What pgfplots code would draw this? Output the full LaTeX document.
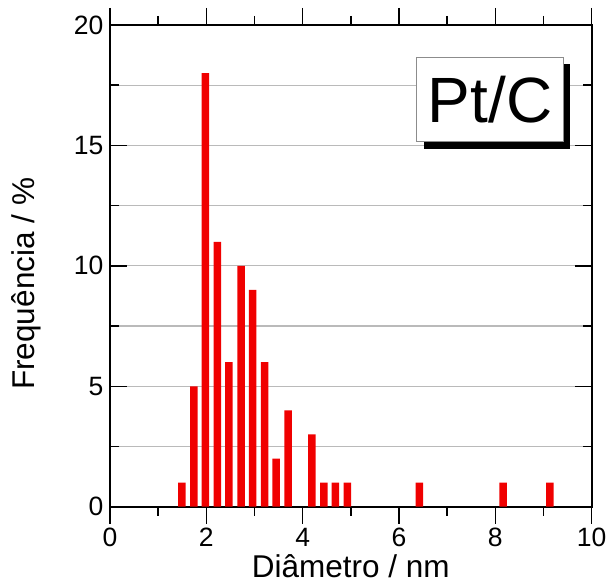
\documentclass[border=0pt]{standalone}
\usepackage{fontspec}
\setmainfont{Liberation Sans}
\usepackage{pgfplots}
\pgfplotsset{compat=1.18}
\usetikzlibrary{shadows}
\definecolor{barred}{RGB}{240,0,0}
\begin{document}
\begin{tikzpicture}
\begin{axis}[
  scale only axis, width=481.7pt, height=481.7pt,
  xmin=0, xmax=10, ymin=0, ymax=20,
  xtick={0,2,...,10}, minor xtick={1,3,...,9},
  ytick={0,5,...,20}, minor ytick={2.5,7.5,12.5,17.5},
  tick align=inside,
  major tick length=17pt, minor tick length=9pt,
  ymajorgrids, yminorgrids,
  grid style={line width=1.3pt, color=black!27},
  minor grid style={line width=1.3pt, color=black!27},
  axis line style={line width=1.6pt},
  every tick/.style={line width=1.5pt, black},
  /pgf/number format/assume math mode=true,
  ticklabel style={font=\fontsize{26.5}{30}\selectfont},
  xticklabel style={yshift=-1pt},
  yticklabel style={xshift=-3pt},
  xlabel={Diâmetro / nm}, ylabel={Frequência / \%},
  label style={font=\fontsize{31.5}{36}\selectfont},
  xlabel style={at={(axis description cs:0.5,0)}, anchor=base, yshift=-71pt},
  ylabel style={at={(axis description cs:0,0.5)}, anchor=base, rotate=0, yshift=75pt, xshift=-18pt},
  ybar, bar width=7.5pt,
  clip=false,
]
\addplot[fill=barred, draw=none] coordinates {
  (1.49,1) (1.74,5) (1.98,18) (2.23,11) (2.47,6) (2.72,10) (2.96,9)
  (3.21,6) (3.45,2) (3.70,4) (4.19,3) (4.44,1) (4.68,1) (4.93,1)
  (6.42,1) (8.16,1) (9.13,1)
};
\node[draw=black!45, line width=0.8pt, fill=white, inner sep=0pt,
      minimum width=146.6pt, minimum height=84.4pt,
      drop shadow={shadow xshift=7pt, shadow yshift=-7pt, fill=black, opacity=1},
      font=\fontsize{64}{70}\selectfont] at (axis cs:7.89,16.9) {Pt/C};
\end{axis}
\pgfresetboundingbox
\path ([shift={(-110pt,-78.3pt)}]current axis.south west) rectangle ([shift={(14.3pt,25pt)}]current axis.north east);
\end{tikzpicture}
\end{document}
